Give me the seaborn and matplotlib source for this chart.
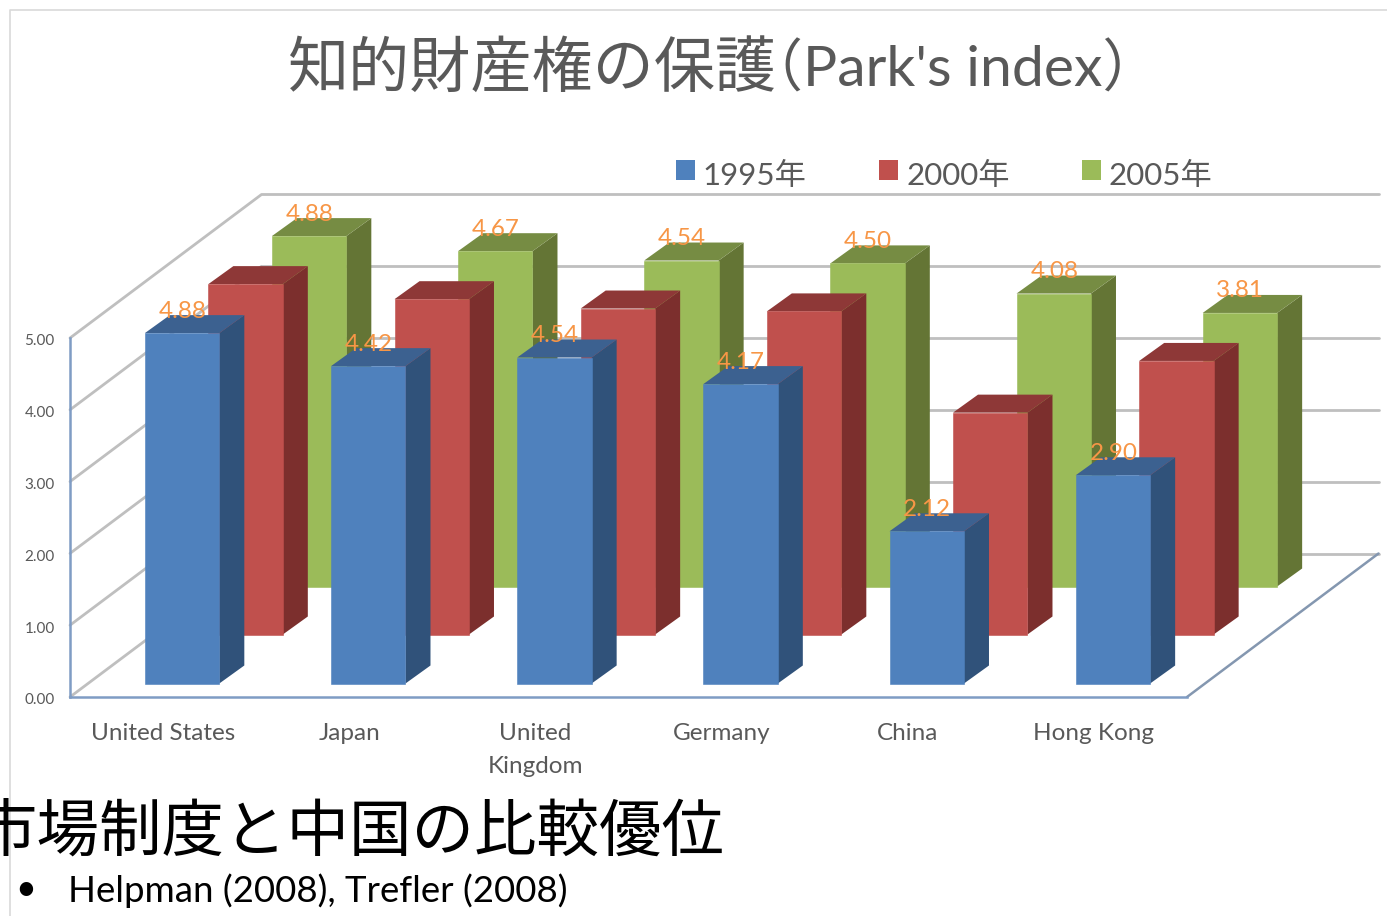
import matplotlib
matplotlib.use("Agg")
import matplotlib.pyplot as plt
from matplotlib.lines import Line2D
from matplotlib.patches import Patch, Polygon
from matplotlib.transforms import Affine2D, IdentityTransform
import numpy as np
import pandas as pd
import seaborn as sns

# data
countries = ["United States", "Japan", "United\nKingdom", "Germany", "China", "Hong Kong"]
years = ["1995年", "2000年", "2005年"]
scores_1995 = [4.88, 4.42, 4.54, 4.17, 2.12, 2.90]
scores_2000 = [4.88, 4.67, 4.54, 4.50, 3.09, 3.81]
scores_2005 = [4.88, 4.67, 4.54, 4.50, 4.08, 3.81]
y_ticks = [0, 1, 2, 3, 4, 5]

df = pd.DataFrame({
    "country": countries * 3,
    "year": np.repeat(years, len(countries)),
    "score": scores_1995 + scores_2000 + scores_2005,
})

W, H = 1387, 916
sns.set_theme(style="white")
plt.rcParams["font.family"] = ["Lato", "Noto Sans CJK JP", "DejaVu Sans"]

GREY = "#595959"
GRID = "#bfbfbf"
AXIS = "#7f9cc4"
ORANGE = "#f79646"

# colours: front, side, top
faces = {
    "1995年": ("#4f81bd", "#30527a", "#3c6190"),
    "2000年": ("#c0504d", "#7c2f2d", "#8e3837"),
    "2005年": ("#9bbb59", "#647535", "#768c43"),
}
# shift of each row of bars from the front plane, in pixels
row_shift = {"1995年": (19, 13.5), "2000年": (82.5, 62.5), "2005年": (146, 110.5)}
labelled = ["1995年", "2005年"]
BAR_DEPTH = (25, 18)
WALL_DEPTH = (191.5, 143.5)

fig = plt.figure(figsize=(W / 100, H / 100), dpi=100, facecolor="white")
ax = fig.add_axes([70 / W, 1 - 697 / H, 1117 / W, 359 / H])
ax.patch.set_alpha(0)
ax.set_xlim(-0.5, 5.5)
ax.set_ylim(0, 5)


def shifted(dx, dy):
    return ax.transData + Affine2D().translate(dx, dy)


# walls and floor
back = shifted(*WALL_DEPTH)
for v in y_ticks:
    a = ax.transData.transform((-0.5, v))
    b = back.transform((-0.5, v))
    ax.add_line(Line2D([a[0], b[0]], [a[1], b[1]], transform=IdentityTransform(),
                       color=GRID, lw=2.0, zorder=1, clip_on=False))
    ax.add_line(Line2D([-0.5, 5.5], [v, v], transform=back, color=GRID, lw=2.0,
                       zorder=1, clip_on=False))
a = ax.transData.transform((5.5, 0))
b = back.transform((5.5, 0))
ax.add_line(Line2D([a[0], b[0]], [a[1], b[1]], transform=IdentityTransform(),
                   color="#8497b0", lw=1.8, zorder=1, clip_on=False))

# bars, back row first
for i, year in enumerate(reversed(years)):
    front, side, top = faces[year]
    dx, dy = row_shift[year]
    z = 2 + i
    n = len(ax.patches)
    sub = df[df["year"] == year]
    sns.barplot(data=sub, x="country", y="score", order=countries, color=front,
                saturation=1, width=0.4, errorbar=None, ax=ax)
    t = shifted(dx, dy)
    for bar, value in zip(list(ax.patches[n:]), sub["score"]):
        bar.set_transform(t)
        bar.set_zorder(z + 0.1)
        bar.set_clip_on(False)
        bar.set_edgecolor(front)
        bar.set_linewidth(0.4)
        x0, x1 = bar.get_x(), bar.get_x() + bar.get_width()
        p00, p10, p11, p01 = t.transform([(x0, 0), (x1, 0), (x1, value), (x0, value)])
        d = np.array(BAR_DEPTH)
        ax.add_patch(Polygon([p10, p10 + d, p11 + d, p11], transform=IdentityTransform(),
                             facecolor=side, edgecolor="none", zorder=z, clip_on=False))
        ax.add_patch(Polygon([p01, p11, p11 + d, p01 + d], transform=IdentityTransform(),
                             facecolor=top, edgecolor="none", zorder=z, clip_on=False))
        if year in labelled:
            ax.text((x0 + x1) / 2, value, f"{value:.2f}", transform=t + Affine2D().translate(0.5, 22),
                    ha="center", va="center", color=ORANGE, fontsize=17.5, zorder=10)

ax.set_xlim(-0.5, 5.5)
ax.set_ylim(0, 5)
ax.set_xlabel("")
ax.set_ylabel("")
ax.set_yticks(y_ticks, [f"{v:.2f}" for v in y_ticks])
ax.tick_params(axis="y", length=0, pad=11, labelsize=11, labelcolor=GREY)
ax.tick_params(axis="x", length=0, pad=18.5, labelsize=17.5, labelcolor=GREY)
for lab in ax.get_xticklabels():
    lab.set_linespacing(1.72)
for lab in ax.get_yticklabels():
    lab.set_transform(lab.get_transform() + Affine2D().translate(0, -2))
sns.despine(ax=ax)
for name in ["left", "bottom"]:
    ax.spines[name].set_color(AXIS)
    ax.spines[name].set_linewidth(1.8)

# legend
handles = [Patch(facecolor=faces[y][0], edgecolor="none", label=y) for y in years]
leg = fig.legend(handles=handles, loc="upper left", bbox_to_anchor=(676 / W, 1 - 158 / H),
                 ncols=3, frameon=False, fontsize=22.5, labelcolor=GREY, borderpad=0, borderaxespad=0,
                 handlelength=0.6, handleheight=0.6, handletextpad=0.26, columnspacing=2.32)
for txt in leg.get_texts():
    txt.set_position((0, -4))

# slide frame and text
fig.add_artist(Line2D([9.5 / W, 9.5 / W, 1], [0, 1 - 10 / H, 1 - 10 / H], color="#d9d9d9", lw=1.2))
fig.text(288 / W, 1 - 69 / H, "知的財産権の保護", ha="left", va="center", fontsize=44, color=GREY)
fig.text(746 / W, 1 - 69 / H, "（Park's index）", ha="left", va="center", fontsize=41, color=GREY)
fig.text(-25 / W, 1 - 832 / H, "市場制度と中国の比較優位", ha="left", va="center", fontsize=45, color="black")
fig.text(15 / W, 1 - 889 / H, "•", ha="left", va="center", fontsize=26, color="black")
fig.text(68 / W, 1 - 891 / H, "Helpman (2008), Trefler (2008)", ha="left", va="center",
         fontsize=26.4, color="black")

fig.savefig("out.png", dpi=100)
